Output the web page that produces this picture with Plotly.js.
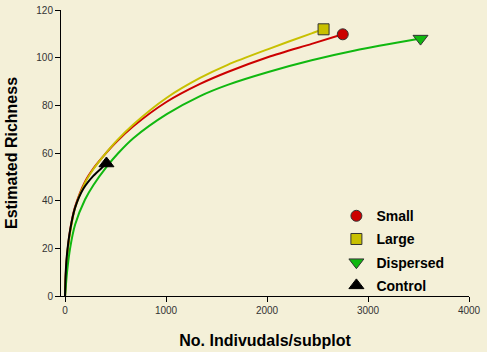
<!DOCTYPE html>
<html><head><meta charset="utf-8">
<script src="https://cdn.plot.ly/plotly-3.0.1.min.js"></script>
<style>html,body{margin:0;padding:0;background:#F4F0D8;}</style>
</head><body>
<div id="chart" style="width:487px;height:352px;"></div>
<script>
// Series: Small
const smallX = [0, 10, 30, 60, 100, 198, 280, 380, 512, 676, 1007, 1337, 1610, 2013, 2442, 2750];
const smallY = [0, 11, 21, 30, 37.5, 48, 53.5, 58.7, 64.8, 71.2, 81.5, 89, 94, 100.3, 105.8, 109.8];
// Series: Large
const largeX = [0, 10, 30, 60, 100, 198, 280, 380, 512, 676, 1007, 1337, 1610, 2013, 2442, 2560];
const largeY = [0, 10.5, 20.5, 29, 37, 47.5, 53.2, 58.7, 65.2, 72, 83.2, 91.5, 97, 103.6, 110.2, 111.9];
// Series: Dispersed
const dispX = [0, 20, 50, 100, 198, 280, 413, 528, 676, 1007, 1337, 1610, 2013, 2442, 2871, 3520];
const dispY = [0, 10, 20, 30, 40.5, 46.5, 54.3, 60, 66.2, 76.3, 83.9, 88.6, 94, 98.9, 103, 108];
// Series: Control
const ctrlX = [0, 5, 17, 50, 99, 181, 280, 380, 410];
const ctrlY = [0, 8, 16.5, 27.5, 37, 45, 50.4, 54.4, 55.6];

const names = ['Small', 'Large', 'Dispersed', 'Control'];
const xTicks = [0, 1000, 2000, 3000, 4000];
const yTicks = [0, 20, 40, 60, 80, 100, 120];

const series = [
  {x: smallX, y: smallY, color: '#CC0000', symbol: 'circle', size: 11},
  {x: largeX, y: largeY, color: '#C8C000', symbol: 'square', size: 11},
  {x: dispX, y: dispY, color: '#10B810', symbol: 'triangle-down', size: 13},
  {x: ctrlX, y: ctrlY, color: '#000000', symbol: 'triangle-up', size: 13}
];

const traces = [];
series.forEach((s, i) => {
  traces.push({
    x: s.x, y: s.y, mode: 'lines', type: 'scatter',
    line: {color: s.color, width: 2, shape: 'spline', smoothing: 0.8},
    showlegend: false, hoverinfo: 'skip'
  });
});
series.forEach((s, i) => {
  const n = s.x.length - 1;
  traces.push({
    x: [s.x[n]], y: [s.y[n]], mode: 'markers', type: 'scatter', name: names[i],
    legendgroup: 'g' + i,
    marker: {color: s.color, symbol: s.symbol, size: s.size,
             line: {color: i === 3 ? '#000000' : '#333333', width: 1}}
  });
});

const layout = {
  width: 487, height: 352,
  paper_bgcolor: '#F4F0D8', plot_bgcolor: '#F4F0D8',
  margin: {l: 61, r: 18, t: 10, b: 56},
  font: {family: 'Arial, "Liberation Sans", sans-serif', color: '#333333'},
  showlegend: true,
  legend: {x: 0.675, y: 0.335, xanchor: 'left', yanchor: 'top',
           bgcolor: 'rgba(0,0,0,0)', tracegroupgap: 2,
           font: {size: 14, color: '#000000', family: 'Arial, "Liberation Sans", sans-serif', weight: 'bold'}},
  xaxis: {
    range: [-40, 4000], tickvals: xTicks, ticktext: xTicks.map(String),
    showgrid: false, zeroline: false, showline: true, linecolor: '#000000', linewidth: 1,
    ticks: 'outside', ticklen: 5, tickcolor: '#000000', tickfont: {size: 10, color: '#333333'},
    title: {text: 'No. Indivudals/subplot', standoff: 19,
            font: {size: 16, color: '#000000', weight: 'bold'}}
  },
  yaxis: {
    range: [0, 120], tickvals: yTicks, ticktext: yTicks.map(String),
    showgrid: false, zeroline: false, showline: true, linecolor: '#000000', linewidth: 1,
    ticks: 'outside', ticklen: 5, tickcolor: '#000000', tickfont: {size: 10, color: '#333333'},
    title: {text: 'Estimated Richness', standoff: 14,
            font: {size: 16, color: '#000000', weight: 'bold'}}
  }
};

Plotly.newPlot('chart', traces, layout, {displayModeBar: false, staticPlot: true});
</script>
</body></html>
